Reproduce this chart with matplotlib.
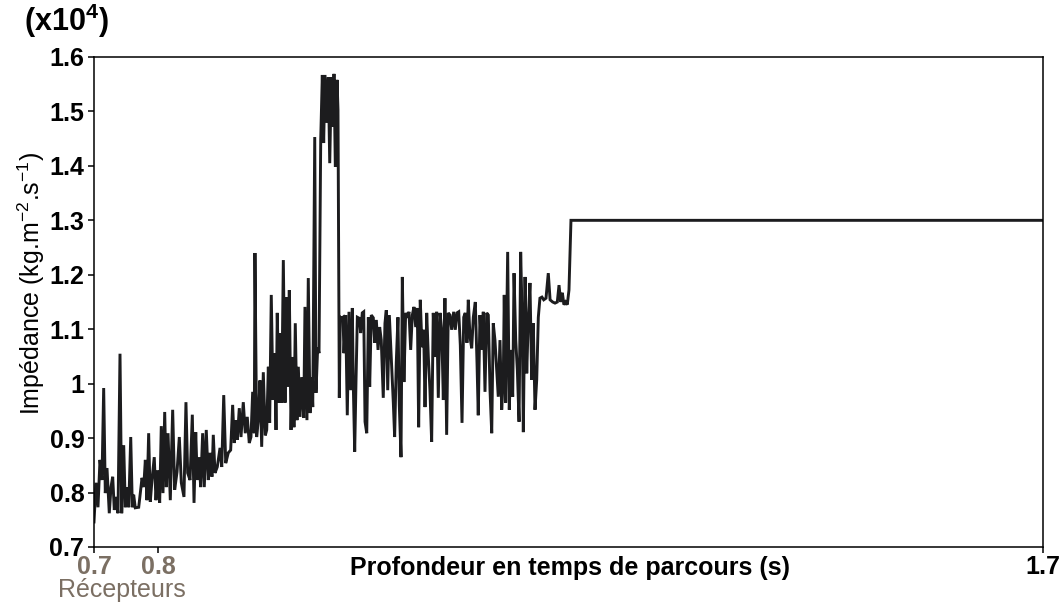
import numpy as np
import matplotlib
matplotlib.use("Agg")
import matplotlib.pyplot as plt
from matplotlib.ticker import FuncFormatter

plt.rcParams['font.family'] = ['Liberation Sans', 'DejaVu Sans']
plt.rcParams['mathtext.fontset'] = 'custom'
plt.rcParams['mathtext.rm'] = 'Liberation Sans'
plt.rcParams['mathtext.bf'] = 'Liberation Sans:bold'

# travel time (s) and impedance (x10^4 kg.m-2.s-1)
time_s = [
    0.7000, 0.7021, 0.7042, 0.7063, 0.7084, 0.7102, 0.7119, 0.7137, 0.7161, 0.7179,
    0.7197, 0.7214, 0.7232, 0.7253, 0.7274, 0.7292, 0.7313, 0.7330, 0.7348, 0.7366,
    0.7387, 0.7404, 0.7418, 0.7435, 0.7471, 0.7506, 0.7524, 0.7541, 0.7558, 0.7576,
    0.7593, 0.7611, 0.7635, 0.7653, 0.7671, 0.7692, 0.7709, 0.7727, 0.7745, 0.7762,
    0.7780, 0.7804, 0.7829, 0.7850, 0.7875, 0.7899, 0.7920, 0.7948, 0.7969, 0.7987,
    0.8012, 0.8036, 0.8054, 0.8072, 0.8088, 0.8106, 0.8124, 0.8145, 0.8162, 0.8183,
    0.8204, 0.8222, 0.8243, 0.8257, 0.8275, 0.8299, 0.8328, 0.8346, 0.8367, 0.8388,
    0.8415, 0.8440, 0.8461, 0.8478, 0.8496, 0.8510, 0.8531, 0.8549, 0.8573, 0.8594,
    0.8615, 0.8636, 0.8654, 0.8672, 0.8689, 0.8696, 0.8714, 0.8731, 0.8749, 0.8767,
    0.8784, 0.8805, 0.8820, 0.8837, 0.8851, 0.8868, 0.8886, 0.8904, 0.8918, 0.8931,
    0.8949, 0.8963, 0.8978, 0.8995, 0.9013, 0.9026, 0.9044, 0.9058, 0.9076, 0.9094,
    0.9107, 0.9121, 0.9139, 0.9153, 0.9171, 0.9189, 0.9210, 0.9223, 0.9244, 0.9258,
    0.9276, 0.9294, 0.9305, 0.9326, 0.9339, 0.9357, 0.9371, 0.9389, 0.9406, 0.9420,
    0.9434, 0.9455, 0.9469, 0.9484, 0.9501, 0.9516, 0.9529, 0.9543, 0.9561, 0.9571,
    0.9585, 0.9595, 0.9610, 0.9624, 0.9634, 0.9652, 0.9669, 0.9687, 0.9705, 0.9722,
    0.9732, 0.9747, 0.9761, 0.9775, 0.9796, 0.9810, 0.9827, 0.9842, 0.9856, 0.9874,
    0.9891, 0.9905, 0.9922, 0.9943, 0.9958, 0.9975, 0.9993, 1.0010, 1.0027, 1.0048,
    1.0066, 1.0080, 1.0095, 1.0112, 1.0129, 1.0154, 1.0168, 1.0185, 1.0203, 1.0217,
    1.0235, 1.0249, 1.0266, 1.0284, 1.0301, 1.0319, 1.0337, 1.0354, 1.0372, 1.0390,
    1.0407, 1.0421, 1.0438, 1.0456, 1.0474, 1.0488, 1.0506, 1.0523, 1.0540, 1.0558,
    1.0575, 1.0593, 1.0611, 1.0628, 1.0646, 1.0664, 1.0681, 1.0698, 1.0716, 1.0733,
    1.0751, 1.0769, 1.0790, 1.0807, 1.0825, 1.0843, 1.0860, 1.0878, 1.0896, 1.0912,
    1.0930, 1.0944, 1.0962, 1.0980, 1.0997, 1.1018, 1.1036, 1.1049, 1.1067, 1.1085,
    1.1102, 1.1120, 1.1138, 1.1155, 1.1173, 1.1191, 1.1207, 1.1225, 1.1243, 1.1260,
    1.1278, 1.1296, 1.1313, 1.1323, 1.1338, 1.1359, 1.1376, 1.1394, 1.1412, 1.1426,
    1.1444, 1.1461, 1.1479, 1.1496, 1.1513, 1.1524, 1.1542, 1.1560, 1.1576, 1.1594,
    1.1612, 1.1629, 1.1647, 1.1665, 1.1682, 1.1699, 1.1720, 1.1739, 1.1763, 1.1787,
    1.1806, 1.1833, 1.1858, 1.1882, 1.1900, 1.1918, 1.1935, 1.1952, 1.1970, 1.1987,
    1.2005, 1.2026, 1.7000,
]
impedance = [
    0.746, 0.818, 0.773, 0.860, 0.823, 0.992, 0.799, 0.845, 0.762, 0.810,
    0.829, 0.768, 0.792, 0.762, 1.055, 0.762, 0.887, 0.773, 0.810, 0.773,
    0.902, 0.773, 0.796, 0.772, 0.773, 0.827, 0.810, 0.860, 0.786, 0.909,
    0.783, 0.823, 0.865, 0.786, 0.841, 0.781, 0.922, 0.799, 0.948, 0.810,
    0.909, 0.786, 0.952, 0.805, 0.838, 0.902, 0.818, 0.792, 0.966, 0.836,
    0.823, 0.943, 0.781, 0.911, 0.823, 0.865, 0.810, 0.909, 0.810, 0.915,
    0.823, 0.873, 0.829, 0.906, 0.836, 0.847, 0.882, 0.847, 0.979, 0.854,
    0.873, 0.878, 0.961, 0.891, 0.933, 0.897, 0.955, 0.902, 0.966, 0.909,
    0.939, 0.891, 0.902, 0.985, 0.909, 1.240, 0.902, 0.933, 1.006, 0.884,
    1.021, 0.905, 0.915, 1.031, 0.928, 1.163, 0.970, 1.056, 0.915, 1.130,
    0.965, 1.093, 0.965, 1.227, 0.965, 1.159, 0.994, 1.172, 0.915, 1.049,
    0.920, 1.111, 0.933, 1.031, 0.939, 1.012, 0.937, 1.141, 0.933, 1.194,
    0.946, 1.012, 0.957, 1.453, 0.983, 1.067, 1.056, 1.448, 1.567, 1.442,
    1.567, 1.479, 1.563, 1.405, 1.563, 1.472, 1.569, 1.398, 1.558, 1.503,
    0.974, 1.122, 1.120, 1.122, 1.056, 1.126, 0.942, 1.132, 0.988, 1.139,
    1.001, 0.875, 1.007, 1.122, 1.120, 1.093, 1.130, 1.132, 0.930, 0.909,
    1.122, 0.994, 1.126, 1.121, 1.075, 1.117, 1.062, 1.104, 1.080, 0.974,
    1.111, 1.135, 0.988, 1.126, 1.062, 0.965, 0.902, 1.038, 1.122, 0.961,
    0.865, 1.196, 1.003, 1.130, 1.121, 1.132, 1.062, 1.126, 1.141, 1.104,
    1.139, 0.920, 1.154, 1.067, 1.099, 0.957, 1.130, 1.049, 0.988, 0.893,
    1.130, 1.049, 1.132, 0.974, 1.130, 1.099, 0.970, 1.157, 0.906, 1.130,
    1.126, 1.099, 1.132, 1.099, 1.130, 1.132, 1.071, 0.928, 1.122, 1.130,
    1.075, 1.154, 1.086, 1.065, 1.122, 1.150, 1.038, 0.942, 1.126, 1.062,
    1.132, 0.985, 1.130, 1.126, 0.988, 0.909, 1.111, 1.080, 1.025, 0.976,
    1.080, 0.952, 1.010, 1.163, 0.965, 1.242, 0.952, 1.062, 0.976, 1.203,
    1.080, 1.025, 0.930, 1.242, 1.111, 0.911, 1.196, 1.019, 1.117, 1.185,
    1.007, 1.111, 0.952, 1.007, 1.122, 1.157, 1.159, 1.154, 1.157, 1.203,
    1.154, 1.150, 1.148, 1.150, 1.181, 1.150, 1.167, 1.145, 1.150, 1.145,
    1.172, 1.300, 1.300,
]

# x axis of the reference is not linear: "0.8" sits close to "0.7"
xtick_pos = [0.7, 0.7674, 1.7]
xtick_labels = ['0.7', '0.8', '1.7']
yticks = [0.7, 0.8, 0.9, 1.0, 1.1, 1.2, 1.3, 1.4, 1.5, 1.6]

grey = '#7b6f63'

fig = plt.figure(figsize=(10.63, 6.03), dpi=100)
ax = fig.add_axes([94 / 1063, 1 - 547 / 603, 949 / 1063, 490 / 603])

ax.plot(time_s, impedance, color='#1c1c1e', linewidth=2.1, solid_joinstyle='miter')

ax.set_xlim(0.7, 1.7)
ax.set_ylim(0.7, 1.6)
ax.set_yticks(yticks)
ax.yaxis.set_major_formatter(FuncFormatter(lambda v, p: f'{v:g}'))
ax.set_xticks(xtick_pos)
ax.set_xticklabels(xtick_labels)

for s in ax.spines.values():
    s.set_linewidth(1.1)
ax.tick_params(direction='out', length=4.5, width=1.1, labelsize=18)
ax.tick_params(axis='y', pad=2.5)
ax.tick_params(axis='x', pad=1.5)
for lab in ax.get_yticklabels():
    lab.set_fontweight('bold')
for lab, c in zip(ax.get_xticklabels(), [grey, grey, 'black']):
    lab.set_fontweight('bold')
    lab.set_color(c)

ax.set_ylabel('Impédance (kg.m$^{\\mathrm{-2}}$.s$^{\\mathrm{-1}}$)', fontsize=18)
ax.yaxis.set_label_coords(-0.049, 0.537)
ax.set_xlabel('Profondeur en temps de parcours (s)', fontsize=18, fontweight='bold')
ax.xaxis.set_label_coords(0.5016, -0.018)

ax.text(0.0295, -0.088, 'Récepteurs', transform=ax.transAxes, ha='center', va='center',
        fontsize=18, color=grey)
fig.text(24 / 1063, 1 - 21 / 603, '(x10$^{\\mathbf{4}}$)', fontsize=22, fontweight='bold',
         ha='left', va='center')

fig.savefig('out.png', dpi=100)
